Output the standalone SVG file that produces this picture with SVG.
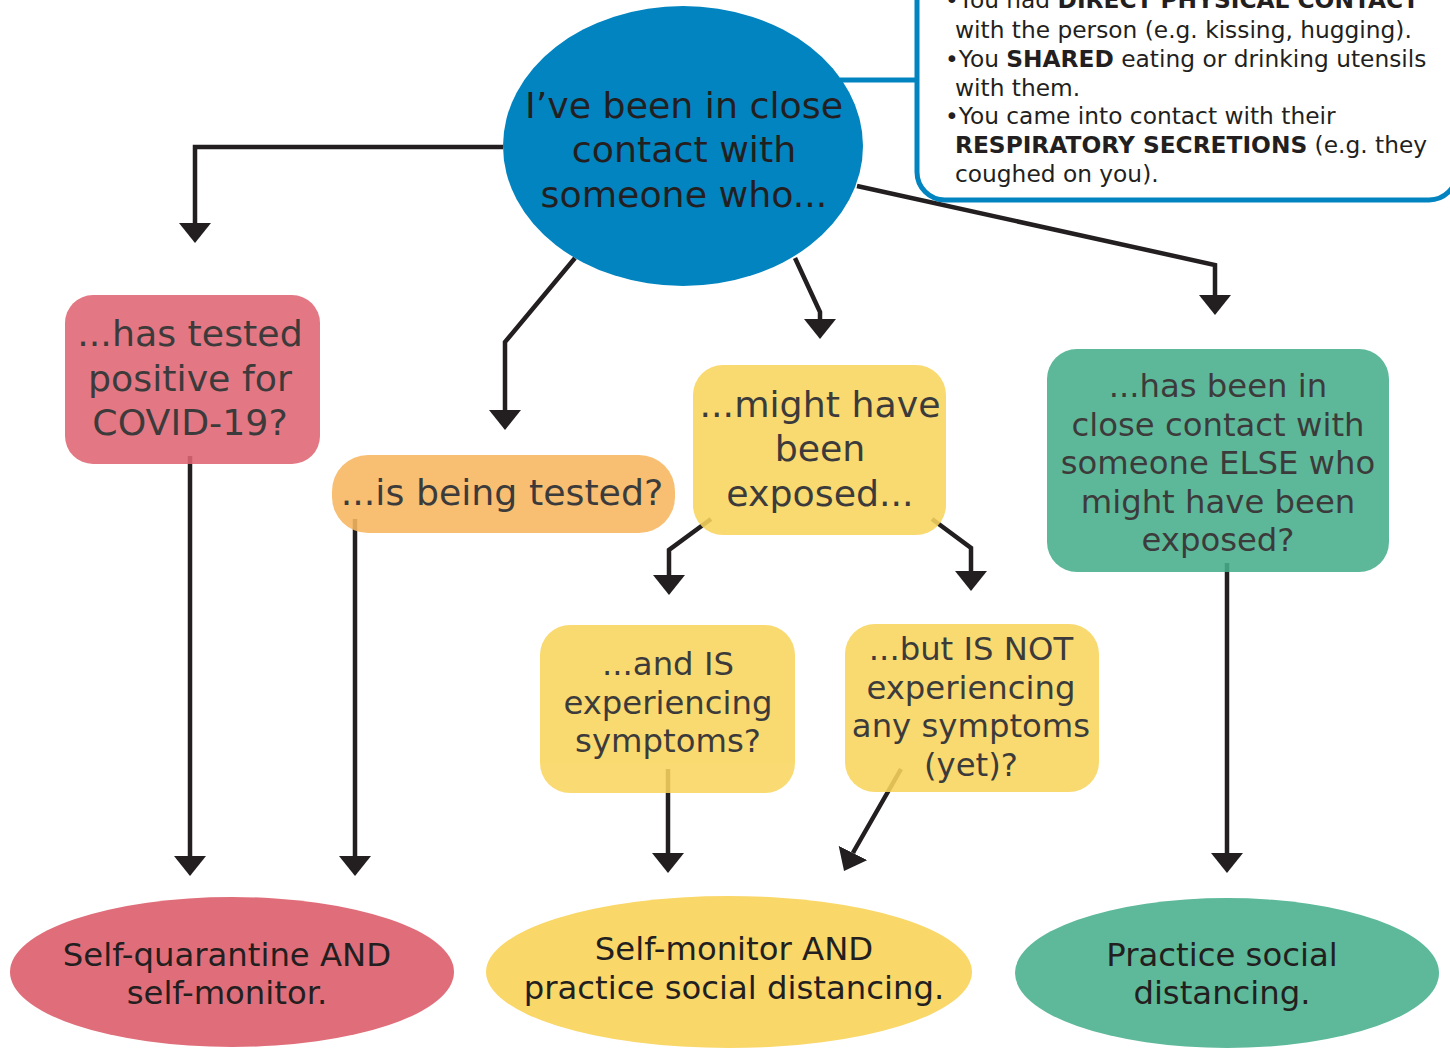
<svg xmlns="http://www.w3.org/2000/svg" width="1450" height="1049" viewBox="0 0 1450 1049">
<defs>
<style>
.t{font-family:"DejaVu Sans","Noto Sans",sans-serif;fill:#231F20;text-anchor:middle}
.big{font-size:36.3px}
.mid{font-size:32.3px}
.info{font-family:"DejaVu Sans","Noto Sans",sans-serif;fill:#231F20;font-size:23.3px}
.b{font-weight:700}
.c{fill:none;stroke:#231F20;stroke-width:4.5;marker-end:url(#ah)}
.n{opacity:0.88}
</style>
<marker id="ah" markerUnits="userSpaceOnUse" markerWidth="20" markerHeight="32" viewBox="0 0 20 32" refX="0" refY="16" orient="auto">
<path d="M0,0 L20,16 L0,32 Z" fill="#231F20"/>
</marker>
</defs>
<rect width="1450" height="1049" fill="#fff"/>

<g id="connectors">
<path class="c" d="M503,147 L195,147 L195,223"/>
<path class="c" d="M575,258 L505,342 L505,410"/>
<path class="c" d="M795,258 L820,312 L820,319"/>
<path class="c" d="M857,186 L1215,265 L1215,295"/>
<path class="c" d="M190,456 L190,856"/>
<path class="c" d="M355,519 L355,856"/>
<path class="c" d="M711,519 L669,550 L669,575"/>
<path class="c" d="M932,519 L971,548 L971,571"/>
<path class="c" d="M668,769 L668,853"/>
<path class="c" d="M901,769 L854,851 L853,853"/>
<path class="c" d="M1227,563 L1227,853"/>
<path d="M840,80 L917,80" fill="none" stroke="#0284C0" stroke-width="5"/>
</g>

<g id="info-box">
<rect x="917" y="-40" width="540" height="240" rx="28" fill="#fff" stroke="#0284C0" stroke-width="5"/>
<text class="info" x="945" y="8">•You had <tspan class="b">DIRECT PHYSICAL CONTACT</tspan></text>
<text class="info" x="955" y="38">with the person (e.g. kissing, hugging).</text>
<text class="info" x="945" y="67">•You <tspan class="b">SHARED</tspan> eating or drinking utensils</text>
<text class="info" x="955" y="96">with them.</text>
<text class="info" x="945" y="124">•You came into contact with their</text>
<text class="info" x="955" y="153"><tspan class="b">RESPIRATORY SECRETIONS</tspan> (e.g. they</text>
<text class="info" x="955" y="182">coughed on you).</text>
</g>

<g id="start">
<ellipse cx="683" cy="146" rx="180" ry="140" fill="#0284C0"/>
<text class="t big" x="684" y="118">I’ve been in close</text>
<text class="t big" x="684" y="162">contact with</text>
<text class="t big" x="684" y="207">someone who...</text>
</g>

<g id="positive" class="n">
<rect x="65" y="295" width="255" height="169" rx="28" fill="#E06674"/>
<text class="t big" x="190" y="346">...has tested</text>
<text class="t big" x="190" y="391">positive for</text>
<text class="t big" x="190" y="435">COVID-19?</text>
</g>

<g id="tested" class="n">
<rect x="332" y="455" width="343" height="78" rx="36" fill="#F8B760"/>
<text class="t big" x="502" y="505">...is being tested?</text>
</g>

<g id="exposed" class="n">
<rect x="693" y="365" width="253" height="170" rx="30" fill="#F9D55E"/>
<text class="t big" x="820" y="417">...might have</text>
<text class="t big" x="820" y="461">been</text>
<text class="t big" x="820" y="506">exposed...</text>
</g>

<g id="else" class="n">
<rect x="1047" y="349" width="342" height="223" rx="30" fill="#47AF8D"/>
<text class="t mid" x="1218" y="397">...has been in</text>
<text class="t mid" x="1218" y="436">close contact with</text>
<text class="t mid" x="1218" y="474">someone ELSE who</text>
<text class="t mid" x="1218" y="513">might have been</text>
<text class="t mid" x="1218" y="551">exposed?</text>
</g>

<g id="symptoms" class="n">
<rect x="540" y="625" width="255" height="168" rx="30" fill="#F9D55E"/>
<text class="t mid" x="668" y="675">...and IS</text>
<text class="t mid" x="668" y="714">experiencing</text>
<text class="t mid" x="668" y="752">symptoms?</text>
</g>

<g id="nosymptoms" class="n">
<rect x="845" y="624" width="254" height="168" rx="30" fill="#F9D55E"/>
<text class="t mid" x="971" y="660">...but IS NOT</text>
<text class="t mid" x="971" y="699">experiencing</text>
<text class="t mid" x="971" y="737">any symptoms</text>
<text class="t mid" x="971" y="776">(yet)?</text>
</g>

<g id="quarantine">
<ellipse cx="232" cy="972" rx="222" ry="75" fill="#E06E7A"/>
<text class="t mid" x="227" y="966">Self-quarantine AND</text>
<text class="t mid" x="227" y="1004">self-monitor.</text>
</g>

<g id="monitor">
<ellipse cx="729" cy="972" rx="243" ry="76" fill="#F9D769"/>
<text class="t mid" x="734" y="960">Self-monitor AND</text>
<text class="t mid" x="734" y="999">practice social distancing.</text>
</g>

<g id="distancing">
<ellipse cx="1227" cy="973" rx="212" ry="75" fill="#5DB999"/>
<text class="t mid" x="1222" y="966">Practice social</text>
<text class="t mid" x="1222" y="1004">distancing.</text>
</g>
</svg>
